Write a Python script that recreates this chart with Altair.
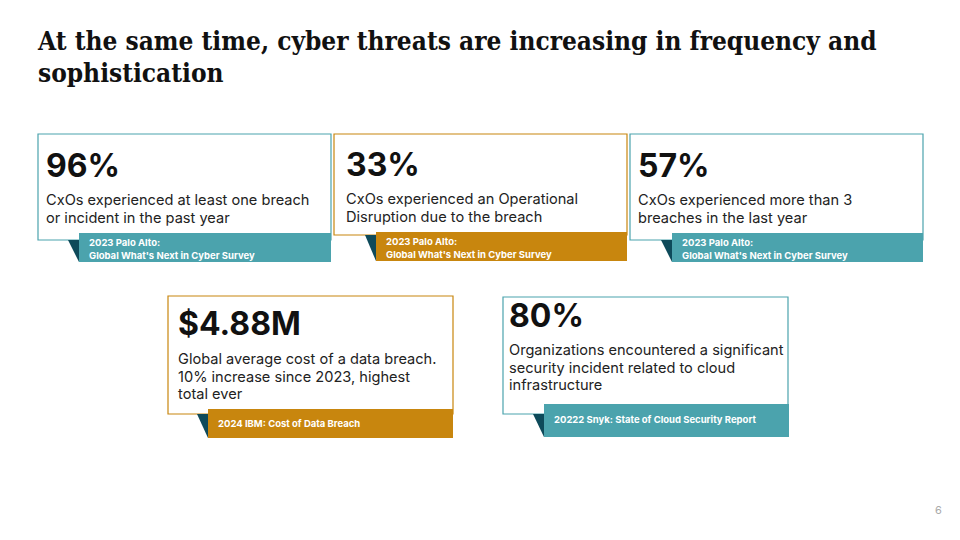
import altair as alt
import pandas as pd

# ---------------- data ----------------
title_lines = ["At the same time, cyber threats are increasing in frequency and", "sophistication"]
stats = ["96%", "33%", "57%", "$4.88M", "80%"]
descriptions = [
    ["CxOs experienced at least one breach", "or incident in the past year"],
    ["CxOs experienced an Operational", "Disruption due to the breach"],
    ["CxOs experienced more than 3", "breaches in the last year"],
    ["Global average cost of a data breach.", "10% increase since 2023, highest", "total ever"],
    ["Organizations encountered a significant", "security incident related to cloud", "infrastructure"],
]
sources = [
    ["2023 Palo Alto:", "Global What's Next in Cyber Survey"],
    ["2023 Palo Alto:", "Global What's Next in Cyber Survey"],
    ["2023 Palo Alto:", "Global What's Next in Cyber Survey"],
    ["2024 IBM: Cost of Data Breach"],
    ["20222 Snyk: State of Cloud Security Report"],
]
accents = ["teal", "orange", "teal", "orange", "teal"]
page_number = "6"

# ---------------- layout (page pixels) ----------------
boxes = [(38, 134, 331, 240), (334, 134, 627, 235), (630, 134, 923, 240), (168, 296, 453, 414), (503, 297, 788, 414)]
bands = [(79, 233, 331, 262), (376, 232, 627, 261), (672, 233, 923, 262), (208, 409, 453, 438), (544, 404, 789, 437)]
text_x = [46, 346, 638, 178, 509]
stat_base = [177, 176, 177, 335, 327]
desc_base = [205, 204, 205, 364, 355]
src_base = [246, 245, 246, 427, 423]
desc_lh = 17.5
src_lh = 12.5

TEAL = "#4BA3AD"
ORANGE = "#C8860E"
DARK = "#0E4A5A"
W, H = 944, 524

xs = alt.Scale(domain=[8, 8 + W], nice=False, zero=False)
ys = alt.Scale(domain=[8, 8 + H], nice=False, zero=False, reverse=True)
acc_scale = alt.Scale(domain=["teal", "orange"], range=[TEAL, ORANGE])

def X(f):
    return alt.X(f, type="quantitative", scale=xs, axis=None)

def Y(f):
    return alt.Y(f, type="quantitative", scale=ys, axis=None)

box_df = pd.DataFrame([dict(x=b[0], y=b[1], x2=b[2], y2=b[3], accent=a) for b, a in zip(boxes, accents)])
band_df = pd.DataFrame([dict(x=b[0], y=b[1], x2=b[2], y2=b[3], accent=a) for b, a in zip(bands, accents)])
tri_rows = []
for i, (bx, bd) in enumerate(zip(boxes, bands)):
    tri_rows.append(dict(card=i, x=bd[0] - 11, yt=bx[3], yb=bx[3]))
    tri_rows.append(dict(card=i, x=bd[0], yt=bx[3], yb=bd[3]))
tri_df = pd.DataFrame(tri_rows)

stat_df = pd.DataFrame([dict(x=text_x[i], y=stat_base[i], t=s) for i, s in enumerate(stats)])
desc_df = pd.DataFrame([dict(x=text_x[i], y=desc_base[i] + j * desc_lh, t=l)
                        for i, d in enumerate(descriptions) for j, l in enumerate(d)])
src_df = pd.DataFrame([dict(x=bands[i][0] + 10, y=src_base[i] + j * src_lh, t=l)
                       for i, s in enumerate(sources) for j, l in enumerate(s)])
title_df = pd.DataFrame([dict(x=38, y=50 + j * 32, t=l) for j, l in enumerate(title_lines)])
pn_df = pd.DataFrame([dict(x=935, y=514, t=page_number)])

box_layer = alt.Chart(box_df).mark_rect(fill="white", strokeWidth=1.2).encode(
    x=X("x"), x2="x2", y=Y("y"), y2="y2", stroke=alt.Stroke("accent:N", scale=acc_scale, legend=None))
tri_layer = alt.Chart(tri_df).mark_area(color=DARK).encode(x=X("x"), y=Y("yt"), y2="yb", detail="card:N")
band_layer = alt.Chart(band_df).mark_rect().encode(
    x=X("x"), x2="x2", y=Y("y"), y2="y2", color=alt.Color("accent:N", scale=acc_scale, legend=None))

def txt(df, **kw):
    return alt.Chart(df).mark_text(align="left", baseline="alphabetic", **kw).encode(x=X("x"), y=Y("y"), text="t:N")

stat_layer = txt(stat_df, font="Inter", fontSize=32, fontWeight=700, color="#111111")
desc_layer = txt(desc_df, font="Inter", fontSize=14.6, color="#222222")
src_layer = txt(src_df, font="Inter", fontSize=9.5, fontWeight=700, color="white")
title_layer = txt(title_df, font="DejaVu Serif Condensed", fontSize=26, fontWeight=700, color="#111111")
pn_layer = txt(pn_df, font="Inter", fontSize=11, color="#AAAAAA")

chart = alt.layer(box_layer, tri_layer, band_layer, stat_layer, desc_layer, src_layer, title_layer, pn_layer).properties(
    width=W, height=H, padding=0, autosize="none", background="white"
).configure_view(stroke=None)

chart.save("out.html", embed_options={"renderer": "svg", "actions": False})
